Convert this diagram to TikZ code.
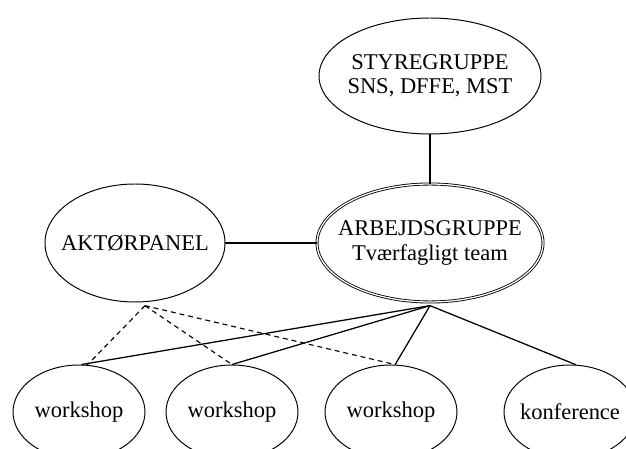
\documentclass[tikz,border=0pt]{standalone}
\usepackage{fontspec}
\setmainfont{Liberation Serif}
\usetikzlibrary{shapes.geometric}

\begin{document}
\begin{tikzpicture}[
  oval/.style={ellipse, draw, line width=0.7pt, inner sep=-1.5cm, align=center,
    font=\fontsize{16}{17.4}\selectfont},
  task/.style={oval, minimum width=3.3cm, minimum height=2.35cm},
  link/.style={line width=0.9pt},
  panellink/.style={line width=0.8pt, dash pattern=on 3.5pt off 2.8pt}]

\useasboundingbox (0,0) rectangle (15.65,11.2);

% Draw groups
\node[oval, minimum width=5.55cm, minimum height=2.9cm] (sty) at (10.75,9.3) {STYREGRUPPE\\SNS, DFFE, MST};
\node[oval, minimum width=5.65cm, minimum height=2.95cm, double, double distance=0.9pt, line width=0.6pt] (arb) at (10.75,5.125) {ARBEJDSGRUPPE\\Tværfagligt team};
\node[oval, minimum width=4.5cm, minimum height=2.95cm] (akt) at (3.375,5.125) {AKTØRPANEL};

% Draw workshops and conference
\node[task] (ws1) at (1.975,0.9) {workshop};
\node[task] (ws2) at (5.8,0.9) {workshop};
\node[task] (ws3) at (9.775,0.9) {workshop};
\node[task] (konf) at (14.25,0.9) {konference};

% Feet of the fan lines
\coordinate (aktfoot) at ([xshift=0.25cm, yshift=-0.08cm]akt.south);
\coordinate (arbfoot) at ([yshift=-0.08cm]arb.south);

% Draw connections
\draw[link] (sty.south) -- (arb.north);
\draw[link] (akt.east) -- (arb.west);
\draw[link] (arbfoot) -- (ws1.87);
\draw[link] (arbfoot) -- (ws2.north);
\draw[link] (arbfoot) -- (ws3.85);
\draw[link] (arbfoot) -- (konf.83);

\draw[panellink] (aktfoot) -- (ws1.80);
\draw[panellink] (aktfoot) -- (ws2.north);
\draw[panellink] (aktfoot) -- (ws3.85);

\end{tikzpicture}
\end{document}
